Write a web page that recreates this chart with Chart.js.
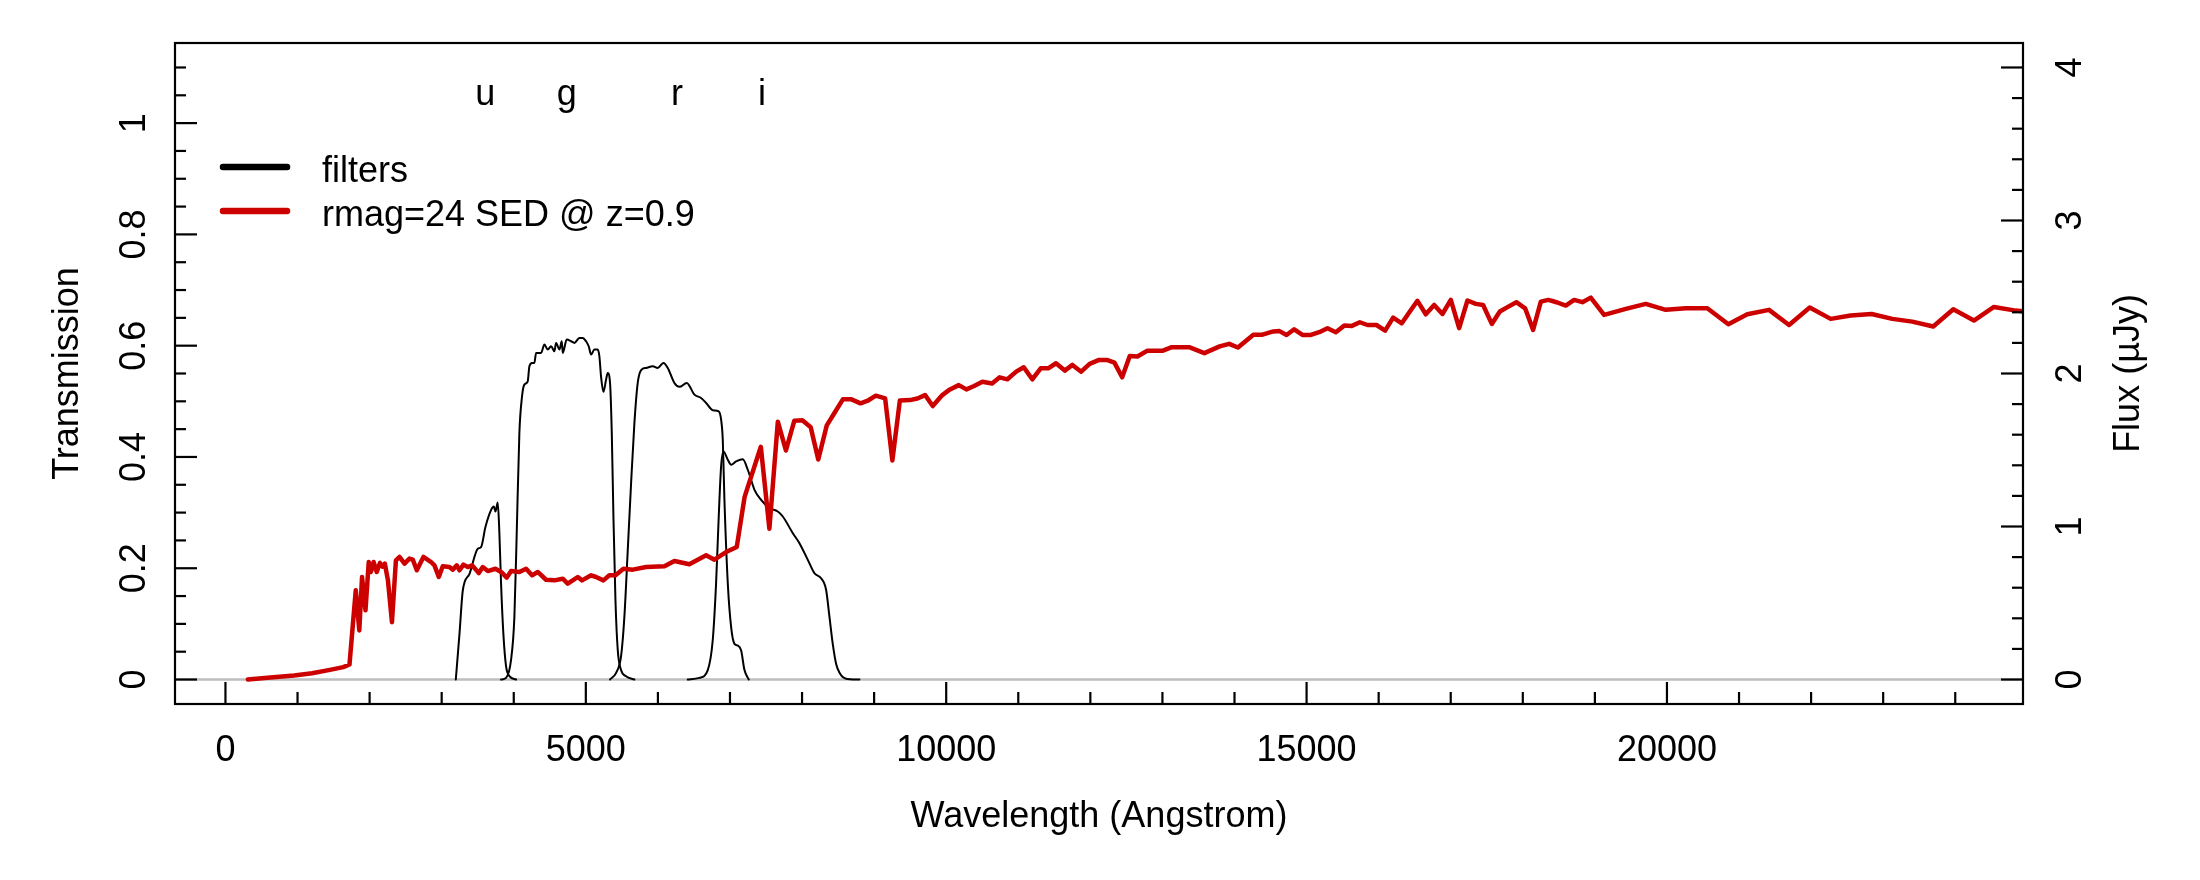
<!DOCTYPE html>
<html>
<head>
<meta charset="utf-8">
<script src="https://cdn.jsdelivr.net/npm/chart.js@4.4.0/dist/chart.umd.min.js"></script>
<style>
html,body{margin:0;padding:0;background:#ffffff;}
#wrap{width:2200px;height:880px;position:relative;}
</style>
</head>
<body>
<div id="wrap"><canvas id="c" width="2200" height="880"></canvas></div>
<script>
// ---------------- DATA ----------------
// SED (flux in microJansky, right axis)
const sedWave = [311, 582, 953, 1201, 1449, 1635, 1721, 1808, 1857, 1895, 1943, 1988, 2018, 2055, 2099, 2143, 2179, 2211, 2254, 2310, 2365, 2415, 2484, 2553, 2600, 2655, 2747, 2853, 2900, 2960, 3015, 3108, 3154, 3210, 3247, 3302, 3362, 3423, 3515, 3570, 3640, 3746, 3824, 3903, 3963, 4078, 4171, 4254, 4333, 4448, 4564, 4680, 4749, 4818, 4888, 4948, 5073, 5142, 5244, 5327, 5411, 5522, 5651, 5836, 6091, 6229, 6437, 6669, 6784, 6946, 7094, 7203, 7428, 7547, 7664, 7776, 7893, 8004, 8120, 8225, 8343, 8443, 8566, 8685, 8812, 8911, 9023, 9153, 9253, 9357, 9495, 9601, 9707, 9813, 9946, 10052, 10175, 10280, 10387, 10503, 10637, 10742, 10849, 10971, 11076, 11194, 11311, 11416, 11523, 11645, 11751, 11873, 11990, 12122, 12229, 12334, 12441, 12547, 12653, 12786, 12999, 13130, 13370, 13582, 13794, 13926, 14048, 14262, 14378, 14537, 14625, 14722, 14828, 14943, 15060, 15175, 15290, 15406, 15522, 15628, 15739, 15845, 15970, 16090, 16201, 16321, 16433, 16538, 16654, 16770, 16885, 17001, 17117, 17232, 17348, 17449, 17570, 17681, 17800, 17911, 18032, 18143, 18250, 18355, 18480, 18596, 18712, 18827, 18943, 19128, 19243, 19429, 19706, 19983, 20261, 20560, 20852, 21115, 21416, 21694, 21981, 22272, 22549, 22840, 23127, 23404, 23695, 23973, 24259, 24537, 24838, 25100];
const sedFlux = [0.000, 0.011, 0.026, 0.041, 0.063, 0.081, 0.098, 0.583, 0.321, 0.670, 0.452, 0.768, 0.703, 0.768, 0.703, 0.762, 0.737, 0.758, 0.650, 0.375, 0.779, 0.801, 0.757, 0.790, 0.783, 0.714, 0.801, 0.768, 0.746, 0.670, 0.740, 0.735, 0.718, 0.746, 0.714, 0.751, 0.735, 0.746, 0.696, 0.735, 0.709, 0.724, 0.703, 0.666, 0.709, 0.703, 0.724, 0.681, 0.703, 0.652, 0.648, 0.659, 0.626, 0.648, 0.670, 0.648, 0.681, 0.670, 0.648, 0.681, 0.681, 0.724, 0.718, 0.735, 0.740, 0.775, 0.753, 0.812, 0.783, 0.833, 0.866, 1.194, 1.521, 0.986, 1.685, 1.497, 1.692, 1.694, 1.649, 1.438, 1.661, 1.737, 1.831, 1.831, 1.805, 1.822, 1.855, 1.837, 1.431, 1.824, 1.826, 1.837, 1.859, 1.787, 1.859, 1.896, 1.924, 1.896, 1.918, 1.946, 1.935, 1.975, 1.962, 2.012, 2.041, 1.962, 2.034, 2.034, 2.067, 2.019, 2.056, 2.012, 2.063, 2.089, 2.089, 2.071, 1.975, 2.115, 2.111, 2.148, 2.148, 2.172, 2.172, 2.133, 2.177, 2.194, 2.170, 2.253, 2.253, 2.275, 2.277, 2.252, 2.289, 2.252, 2.252, 2.270, 2.296, 2.270, 2.313, 2.311, 2.335, 2.317, 2.317, 2.280, 2.365, 2.328, 2.405, 2.475, 2.387, 2.448, 2.389, 2.481, 2.296, 2.477, 2.455, 2.448, 2.324, 2.405, 2.437, 2.466, 2.426, 2.285, 2.470, 2.481, 2.464, 2.444, 2.481, 2.466, 2.496, 2.383, 2.398, 2.422, 2.455, 2.416, 2.427, 2.427, 2.322, 2.387, 2.416, 2.317, 2.431, 2.357, 2.379, 2.389, 2.357, 2.339, 2.307, 2.420, 2.346, 2.435, 2.411, 2.400];

// Filter transmission curves (left axis)
const uWave  = [3196, 3247, 3293, 3386, 3501, 3547, 3607, 3686, 3723, 3746, 3778, 3801, 3824, 3856, 3893, 3940, 4032];
const uTrans = [0, 0.082, 0.160, 0.190, 0.235, 0.238, 0.274, 0.305, 0.311, 0.302, 0.318, 0.262, 0.172, 0.082, 0.024, 0.006, 0];

const gWave  = [3824, 3893, 3962, 4009, 4041, 4078, 4115, 4147, 4194, 4217, 4254, 4286, 4310, 4379, 4425, 4472, 4518, 4564, 4587, 4634, 4666, 4680, 4735, 4795, 4842, 4911, 4957, 5003, 5040, 5073, 5119, 5165, 5188, 5211, 5244, 5281, 5304, 5336, 5360, 5383, 5411, 5443, 5489, 5558, 5674];
const gTrans = [0, 0.003, 0.035, 0.113, 0.262, 0.443, 0.509, 0.530, 0.536, 0.563, 0.569, 0.569, 0.587, 0.587, 0.602, 0.593, 0.599, 0.590, 0.605, 0.593, 0.608, 0.587, 0.611, 0.608, 0.605, 0.614, 0.614, 0.608, 0.599, 0.584, 0.593, 0.593, 0.581, 0.545, 0.517, 0.539, 0.551, 0.533, 0.443, 0.293, 0.143, 0.053, 0.017, 0.006, 0];

const rWave  = [5336, 5420, 5489, 5535, 5582, 5628, 5674, 5720, 5767, 5836, 5929, 5998, 6077, 6137, 6229, 6299, 6400, 6507, 6599, 6669, 6761, 6844, 6877, 6900, 6923, 6970, 7016, 7062, 7108, 7155, 7201, 7261];
const rTrans = [0, 0.012, 0.042, 0.113, 0.233, 0.353, 0.461, 0.533, 0.556, 0.560, 0.563, 0.560, 0.569, 0.560, 0.533, 0.526, 0.533, 0.512, 0.506, 0.497, 0.484, 0.482, 0.467, 0.431, 0.323, 0.172, 0.094, 0.064, 0.061, 0.052, 0.017, 0];

const iWave  = [6414, 6576, 6692, 6761, 6807, 6844, 6877, 6909, 6970, 7016, 7085, 7178, 7247, 7340, 7432, 7548, 7663, 7733, 7872, 7964, 8080, 8172, 8264, 8334, 8380, 8426, 8473, 8520, 8600, 8796];
const iTrans = [0, 0.003, 0.017, 0.071, 0.172, 0.293, 0.383, 0.410, 0.395, 0.386, 0.392, 0.396, 0.377, 0.341, 0.323, 0.308, 0.302, 0.293, 0.263, 0.245, 0.215, 0.191, 0.182, 0.161, 0.113, 0.064, 0.028, 0.012, 0.002, 0];

// Filter name labels at top
const filterNames = ['u', 'g', 'r', 'i'];
const filterLabelWave = [3604, 4735, 6266, 7446];
const filterLabelLevel = 1.032;

// Axis ticks
const xTicks = [0, 5000, 10000, 15000, 20000];
const xTickLabels = ['0', '5000', '10000', '15000', '20000'];
const xMinorTicks = [1000, 2000, 3000, 4000, 6000, 7000, 8000, 9000, 11000, 12000, 13000, 14000, 16000, 17000, 18000, 19000, 21000, 22000, 23000, 24000];
const yTicks = [0, 0.2, 0.4, 0.6, 0.8, 1];
const yTickLabels = ['0', '0.2', '0.4', '0.6', '0.8', '1'];
const yMinorTicks = [0.05, 0.1, 0.15, 0.25, 0.3, 0.35, 0.45, 0.5, 0.55, 0.65, 0.7, 0.75, 0.85, 0.9, 0.95, 1.05, 1.1];
const y2Ticks = [0, 1, 2, 3, 4];
const y2TickLabels = ['0', '1', '2', '3', '4'];
const y2MinorTicks = [0.2, 0.4, 0.6, 0.8, 1.2, 1.4, 1.6, 1.8, 2.2, 2.4, 2.6, 2.8, 3.2, 3.4, 3.6, 3.8];

const xTitle = 'Wavelength (Angstrom)';
const yTitle = 'Transmission';
const y2Title = 'Flux (\u00B5Jy)';
const legendLabels = ['filters', 'rmag=24 SED @ z=0.9'];
const legendColors = ['#000000', '#cd0000'];

// ---------------- CHART ----------------
const pairs = (xs, ys) => xs.map((x, k) => ({x: x, y: ys[k]}));
const FONT = '36px "Liberation Sans", Arial, Helvetica, sans-serif';

function seg(ctx, x1, y1, x2, y2) {
  ctx.beginPath(); ctx.moveTo(x1, y1); ctx.lineTo(x2, y2); ctx.stroke();
}
function vtext(ctx, txt, x, y) {
  ctx.save(); ctx.translate(x, y); ctx.rotate(-Math.PI / 2);
  ctx.textAlign = 'center'; ctx.textBaseline = 'alphabetic';
  ctx.fillText(txt, 0, 0); ctx.restore();
}

const decor = {
  id: 'decor',
  beforeDatasetsDraw(chart) {
    const {ctx, chartArea: a, scales: {y}} = chart;
    const y0 = y.getPixelForValue(0);
    ctx.save();
    ctx.strokeStyle = '#bebebe'; ctx.lineWidth = 2.5;
    seg(ctx, a.left, y0, a.right, y0);
    ctx.restore();
  },
  afterDraw(chart) {
    const {ctx, chartArea: a, scales: {x, y, y2}} = chart;
    ctx.save();
    ctx.strokeStyle = '#000'; ctx.fillStyle = '#000'; ctx.lineWidth = 2.2;
    ctx.lineCap = 'butt';
    // frame
    ctx.strokeRect(a.left, a.top, a.right - a.left, a.bottom - a.top);
    // x ticks (inward)
    xTicks.forEach(v => { const p = x.getPixelForValue(v); seg(ctx, p, a.bottom, p, a.bottom - 22); });
    xMinorTicks.forEach(v => { const p = x.getPixelForValue(v); seg(ctx, p, a.bottom, p, a.bottom - 12); });
    // left ticks
    yTicks.forEach(v => { const p = y.getPixelForValue(v); seg(ctx, a.left, p, a.left + 22, p); });
    yMinorTicks.forEach(v => { const p = y.getPixelForValue(v); seg(ctx, a.left, p, a.left + 11, p); });
    // right ticks
    y2Ticks.forEach(v => { const p = y2.getPixelForValue(v); seg(ctx, a.right, p, a.right - 22, p); });
    y2MinorTicks.forEach(v => { const p = y2.getPixelForValue(v); seg(ctx, a.right, p, a.right - 11, p); });

    ctx.font = FONT;
    // x tick labels
    ctx.textAlign = 'center'; ctx.textBaseline = 'alphabetic';
    xTicks.forEach((v, k) => ctx.fillText(xTickLabels[k], x.getPixelForValue(v), a.bottom + 57));
    // x title
    ctx.fillText(xTitle, (a.left + a.right) / 2, a.bottom + 123);
    // left tick labels (rotated)
    yTicks.forEach((v, k) => vtext(ctx, yTickLabels[k], a.left - 30, y.getPixelForValue(v)));
    vtext(ctx, yTitle, a.left - 97, (a.top + a.bottom) / 2);
    // right tick labels
    y2Ticks.forEach((v, k) => vtext(ctx, y2TickLabels[k], a.right + 58, y2.getPixelForValue(v)));
    vtext(ctx, y2Title, a.right + 116, (a.top + a.bottom) / 2);

    // filter letters
    ctx.textAlign = 'center'; ctx.textBaseline = 'alphabetic';
    filterNames.forEach((n, k) => ctx.fillText(n, x.getPixelForValue(filterLabelWave[k]), y.getPixelForValue(filterLabelLevel)));

    // legend
    const legY = [a.top + 124, a.top + 168];
    ctx.lineCap = 'round'; ctx.lineWidth = 6.5;
    legendLabels.forEach((lab, k) => {
      ctx.strokeStyle = legendColors[k];
      seg(ctx, a.left + 48, legY[k], a.left + 112, legY[k]);
      ctx.fillStyle = '#000'; ctx.textAlign = 'left';
      ctx.fillText(lab, a.left + 147, legY[k] + 14.5);
    });
    ctx.restore();
  }
};

const filterStyle = {borderColor: '#000000', borderWidth: 2, pointRadius: 0, yAxisID: 'y',
  cubicInterpolationMode: 'monotone', borderJoinStyle: 'round', borderCapStyle: 'round', clip: 0, order: 1, fill: false};

new Chart(document.getElementById('c').getContext('2d'), {
  type: 'line',
  data: {
    datasets: [
      {label: legendLabels[1], data: pairs(sedWave, sedFlux), borderColor: legendColors[1], borderWidth: 4.5,
       pointRadius: 0, yAxisID: 'y2', tension: 0, borderJoinStyle: 'round', borderCapStyle: 'round', clip: 0, order: 0, fill: false},
      Object.assign({label: 'u', data: pairs(uWave, uTrans)}, filterStyle),
      Object.assign({label: 'g', data: pairs(gWave, gTrans)}, filterStyle),
      Object.assign({label: 'r', data: pairs(rWave, rTrans)}, filterStyle),
      Object.assign({label: 'i', data: pairs(iWave, iTrans)}, filterStyle)
    ]
  },
  options: {
    responsive: false, animation: false, devicePixelRatio: 1,
    layout: {padding: {left: 175, right: 177, top: 43, bottom: 176}},
    plugins: {legend: {display: false}, tooltip: {enabled: false}},
    scales: {
      x: {type: 'linear', min: -700, max: 24940, display: false},
      y: {type: 'linear', min: -0.044, max: 1.144, display: false},
      y2: {type: 'linear', position: 'right', min: -0.16, max: 4.16, display: false}
    }
  },
  plugins: [decor]
});
</script>
</body>
</html>
